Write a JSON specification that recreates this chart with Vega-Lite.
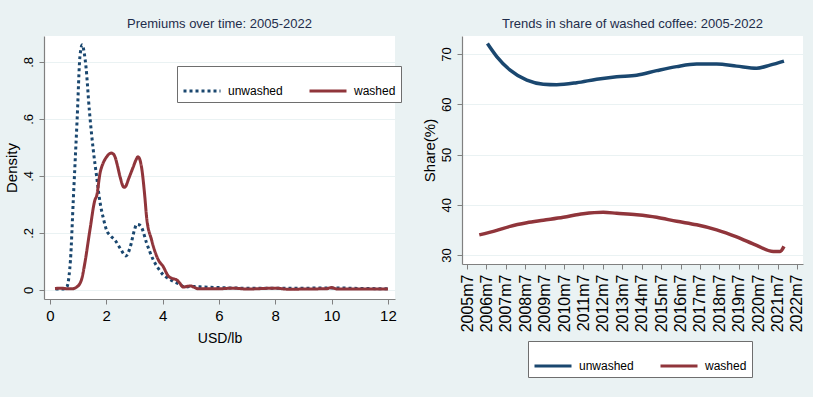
{
  "$schema": "https://vega.github.io/schema/vega-lite/v6.json",
  "background": "#eaf2f3",
  "padding": {"left": 4, "top": 18, "right": 10, "bottom": 20},
  "datasets": {
    "density": [
      {"usd": 0.2, "density": 0.003, "type": "unwashed"},
      {"usd": 0.45, "density": 0.003, "type": "unwashed"},
      {"usd": 0.6, "density": 0.01, "type": "unwashed"},
      {"usd": 0.68, "density": 0.05, "type": "unwashed"},
      {"usd": 0.73, "density": 0.105, "type": "unwashed"},
      {"usd": 0.83, "density": 0.316, "type": "unwashed"},
      {"usd": 0.97, "density": 0.607, "type": "unwashed"},
      {"usd": 1.065, "density": 0.818, "type": "unwashed"},
      {"usd": 1.15, "density": 0.86, "type": "unwashed"},
      {"usd": 1.22, "density": 0.83, "type": "unwashed"},
      {"usd": 1.28, "density": 0.783, "type": "unwashed"},
      {"usd": 1.4, "density": 0.63, "type": "unwashed"},
      {"usd": 1.54, "density": 0.49, "type": "unwashed"},
      {"usd": 1.66, "density": 0.397, "type": "unwashed"},
      {"usd": 1.775, "density": 0.31, "type": "unwashed"},
      {"usd": 1.9, "density": 0.25, "type": "unwashed"},
      {"usd": 2.01, "density": 0.21, "type": "unwashed"},
      {"usd": 2.15, "density": 0.19, "type": "unwashed"},
      {"usd": 2.31, "density": 0.175, "type": "unwashed"},
      {"usd": 2.5, "density": 0.145, "type": "unwashed"},
      {"usd": 2.7, "density": 0.119, "type": "unwashed"},
      {"usd": 2.85, "density": 0.15, "type": "unwashed"},
      {"usd": 3.0, "density": 0.21, "type": "unwashed"},
      {"usd": 3.08, "density": 0.23, "type": "unwashed"},
      {"usd": 3.18, "density": 0.228, "type": "unwashed"},
      {"usd": 3.25, "density": 0.22, "type": "unwashed"},
      {"usd": 3.43, "density": 0.165, "type": "unwashed"},
      {"usd": 3.67, "density": 0.105, "type": "unwashed"},
      {"usd": 3.85, "density": 0.075, "type": "unwashed"},
      {"usd": 4.02, "density": 0.053, "type": "unwashed"},
      {"usd": 4.2, "density": 0.04, "type": "unwashed"},
      {"usd": 4.38, "density": 0.03, "type": "unwashed"},
      {"usd": 4.6, "density": 0.02, "type": "unwashed"},
      {"usd": 4.79, "density": 0.01, "type": "unwashed"},
      {"usd": 5.0, "density": 0.012, "type": "unwashed"},
      {"usd": 5.5, "density": 0.01, "type": "unwashed"},
      {"usd": 6.0, "density": 0.008, "type": "unwashed"},
      {"usd": 7.0, "density": 0.006, "type": "unwashed"},
      {"usd": 8.0, "density": 0.006, "type": "unwashed"},
      {"usd": 9.0, "density": 0.006, "type": "unwashed"},
      {"usd": 10.0, "density": 0.007, "type": "unwashed"},
      {"usd": 11.0, "density": 0.005, "type": "unwashed"},
      {"usd": 12.0, "density": 0.004, "type": "unwashed"},
      {"usd": 0.18, "density": 0.005, "type": "washed"},
      {"usd": 0.4, "density": 0.006, "type": "washed"},
      {"usd": 0.6, "density": 0.004, "type": "washed"},
      {"usd": 0.8, "density": 0.004, "type": "washed"},
      {"usd": 0.95, "density": 0.01, "type": "washed"},
      {"usd": 1.05, "density": 0.02, "type": "washed"},
      {"usd": 1.12, "density": 0.035, "type": "washed"},
      {"usd": 1.24, "density": 0.094, "type": "washed"},
      {"usd": 1.42, "density": 0.21, "type": "washed"},
      {"usd": 1.6, "density": 0.316, "type": "washed"},
      {"usd": 1.66, "density": 0.33, "type": "washed"},
      {"usd": 1.78, "density": 0.41, "type": "washed"},
      {"usd": 1.89, "density": 0.445, "type": "washed"},
      {"usd": 2.0, "density": 0.465, "type": "washed"},
      {"usd": 2.17, "density": 0.48, "type": "washed"},
      {"usd": 2.25, "density": 0.477, "type": "washed"},
      {"usd": 2.31, "density": 0.467, "type": "washed"},
      {"usd": 2.4, "density": 0.435, "type": "washed"},
      {"usd": 2.49, "density": 0.397, "type": "washed"},
      {"usd": 2.63, "density": 0.36, "type": "washed"},
      {"usd": 2.7, "density": 0.365, "type": "washed"},
      {"usd": 2.78, "density": 0.386, "type": "washed"},
      {"usd": 2.96, "density": 0.432, "type": "washed"},
      {"usd": 3.05, "density": 0.455, "type": "washed"},
      {"usd": 3.13, "density": 0.467, "type": "washed"},
      {"usd": 3.2, "density": 0.455, "type": "washed"},
      {"usd": 3.25, "density": 0.432, "type": "washed"},
      {"usd": 3.37, "density": 0.326, "type": "washed"},
      {"usd": 3.43, "density": 0.257, "type": "washed"},
      {"usd": 3.61, "density": 0.175, "type": "washed"},
      {"usd": 3.85, "density": 0.105, "type": "washed"},
      {"usd": 4.02, "density": 0.082, "type": "washed"},
      {"usd": 4.2, "density": 0.049, "type": "washed"},
      {"usd": 4.35, "density": 0.04, "type": "washed"},
      {"usd": 4.5, "density": 0.035, "type": "washed"},
      {"usd": 4.6, "density": 0.025, "type": "washed"},
      {"usd": 4.73, "density": 0.01, "type": "washed"},
      {"usd": 4.85, "density": 0.012, "type": "washed"},
      {"usd": 5.0, "density": 0.014, "type": "washed"},
      {"usd": 5.1, "density": 0.01, "type": "washed"},
      {"usd": 5.26, "density": 0.004, "type": "washed"},
      {"usd": 6.0, "density": 0.004, "type": "washed"},
      {"usd": 6.5, "density": 0.006, "type": "washed"},
      {"usd": 7.0, "density": 0.003, "type": "washed"},
      {"usd": 8.0, "density": 0.006, "type": "washed"},
      {"usd": 8.5, "density": 0.002, "type": "washed"},
      {"usd": 9.0, "density": 0.003, "type": "washed"},
      {"usd": 9.8, "density": 0.004, "type": "washed"},
      {"usd": 10.0, "density": 0.008, "type": "washed"},
      {"usd": 10.2, "density": 0.003, "type": "washed"},
      {"usd": 11.0, "density": 0.003, "type": "washed"},
      {"usd": 12.0, "density": 0.003, "type": "washed"}
    ],
    "share": [
      {"year": 2006.55, "share": 72.1, "type": "unwashed"},
      {"year": 2007.03, "share": 69.5, "type": "unwashed"},
      {"year": 2007.72, "share": 66.8, "type": "unwashed"},
      {"year": 2008.58, "share": 64.8, "type": "unwashed"},
      {"year": 2009.43, "share": 64.0, "type": "unwashed"},
      {"year": 2010.12, "share": 63.9, "type": "unwashed"},
      {"year": 2011.15, "share": 64.3, "type": "unwashed"},
      {"year": 2012.18, "share": 65.0, "type": "unwashed"},
      {"year": 2013.21, "share": 65.5, "type": "unwashed"},
      {"year": 2014.24, "share": 65.8, "type": "unwashed"},
      {"year": 2015.27, "share": 66.7, "type": "unwashed"},
      {"year": 2016.3, "share": 67.5, "type": "unwashed"},
      {"year": 2017.33, "share": 68.0, "type": "unwashed"},
      {"year": 2018.36, "share": 68.0, "type": "unwashed"},
      {"year": 2019.39, "share": 67.6, "type": "unwashed"},
      {"year": 2020.42, "share": 67.2, "type": "unwashed"},
      {"year": 2021.11, "share": 67.8, "type": "unwashed"},
      {"year": 2021.83, "share": 68.6, "type": "unwashed"},
      {"year": 2006.13, "share": 34.0, "type": "washed"},
      {"year": 2007.03, "share": 34.9, "type": "washed"},
      {"year": 2007.72, "share": 35.7, "type": "washed"},
      {"year": 2008.58, "share": 36.4, "type": "washed"},
      {"year": 2009.43, "share": 36.9, "type": "washed"},
      {"year": 2010.46, "share": 37.5, "type": "washed"},
      {"year": 2011.49, "share": 38.2, "type": "washed"},
      {"year": 2012.52, "share": 38.5, "type": "washed"},
      {"year": 2013.21, "share": 38.3, "type": "washed"},
      {"year": 2014.24, "share": 38.0, "type": "washed"},
      {"year": 2015.27, "share": 37.5, "type": "washed"},
      {"year": 2016.3, "share": 36.7, "type": "washed"},
      {"year": 2017.33, "share": 36.0, "type": "washed"},
      {"year": 2018.36, "share": 35.0, "type": "washed"},
      {"year": 2019.39, "share": 33.6, "type": "washed"},
      {"year": 2020.42, "share": 31.9, "type": "washed"},
      {"year": 2021.28, "share": 30.7, "type": "washed"},
      {"year": 2021.63, "share": 30.7, "type": "washed"},
      {"year": 2021.83, "share": 31.7, "type": "washed"}
    ]
  },
  "bounds": "flush",
  "spacing": 67,
  "hconcat": [
    {
      "width": 351,
      "height": 263,
      "title": {"text": "Premiums over time: 2005-2022"},
      "data": {"name": "density"},
      "mark": {"type": "line", "strokeWidth": 3, "interpolate": "monotone", "clip": true},
      "encoding": {
        "x": {
          "field": "usd", "type": "quantitative",
          "scale": {"domain": [-0.21, 12.25], "nice": false, "zero": false},
          "axis": {"values": [0, 2, 4, 6, 8, 10, 12], "title": "USD/lb", "grid": false, "titlePadding": 8}
        },
        "y": {
          "field": "density", "type": "quantitative",
          "scale": {"domain": [-0.032, 0.891], "nice": false, "zero": false},
          "axis": {
            "values": [0, 0.2, 0.4, 0.6, 0.8],
            "labelExpr": "datum.value == 0 ? '0' : replace(format(datum.value, '.1f'), '0.', '.')",
            "title": "Density"
          }
        },
        "color": {
          "field": "type", "type": "nominal",
          "scale": {"domain": ["unwashed", "washed"], "range": ["#1a476f", "#90353b"]},
          "legend": {"orient": "none", "legendX": 133, "legendY": 30, "direction": "horizontal", "title": null}
        },
        "strokeDash": {
          "field": "type", "type": "nominal",
          "scale": {"domain": ["unwashed", "washed"], "range": [[3, 3], [1, 0]]},
          "legend": {"orient": "none", "legendX": 133, "legendY": 30, "direction": "horizontal", "title": null}
        }
      }
    },
    {
      "width": 341,
      "height": 228,
      "title": {"text": "Trends in share of washed coffee: 2005-2022"},
      "data": {"name": "share"},
      "mark": {"type": "line", "strokeWidth": 3.5, "interpolate": "monotone", "clip": true},
      "encoding": {
        "x": {
          "field": "year", "type": "quantitative",
          "scale": {"domain": [2005.24, 2022.81], "nice": false, "zero": false},
          "axis": {
            "values": [2005.5, 2006.5, 2007.5, 2008.5, 2009.5, 2010.5, 2011.5, 2012.5, 2013.5, 2014.5, 2015.5, 2016.5, 2017.5, 2018.5, 2019.5, 2020.5, 2021.5, 2022.5],
            "labelExpr": "floor(datum.value) + 'm7'",
            "labelAngle": -90, "labelAlign": "right", "labelBaseline": "middle",
            "labelFont": "Liberation Sans", "labelFontSize": 16, "labelPadding": 5,
            "labelOverlap": false, "labelBound": false, "labelFlush": false,
            "title": null, "grid": false
          }
        },
        "y": {
          "field": "share", "type": "quantitative",
          "scale": {"domain": [28.2, 73.6], "nice": false, "zero": false},
          "axis": {"values": [30, 40, 50, 60, 70], "title": "Share(%)"}
        },
        "color": {
          "field": "type", "type": "nominal",
          "scale": {"domain": ["unwashed", "washed"], "range": ["#1a476f", "#90353b"]},
          "legend": {"orient": "none", "legendX": 66, "legendY": 305, "direction": "horizontal", "title": null}
        }
      }
    }
  ],
  "resolve": {
    "scale": {"color": "independent", "strokeDash": "independent"},
    "legend": {"color": "independent", "strokeDash": "independent"}
  },
  "config": {
    "view": {"fill": "white", "stroke": null},
    "title": {"font": "Liberation Sans", "fontSize": 13, "fontWeight": "normal", "color": "#1e2d4b", "offset": 5},
    "axis": {
      "domainColor": "#808080", "tickColor": "#808080", "tickSize": 5, "domainWidth": 1.2,
      "labelColor": "#000000", "titleColor": "#000000", "titleFontWeight": "normal",
      "gridColor": "#eaf2f3", "gridWidth": 1.2,
      "labelFont": "Liberation Sans", "titleFont": "Liberation Sans", "titleFontSize": 15
    },
    "axisX": {"labelFontSize": 15, "titleFontSize": 14, "labelPadding": 4, "labelFlush": false},
    "axisY": {"labelAngle": -90, "labelAlign": "center", "labelBaseline": "bottom", "labelFontSize": 13, "labelPadding": 4, "titlePadding": 3, "grid": true},
    "legend": {
      "labelFont": "Liberation Sans", "labelFontSize": 12, "labelColor": "#000000",
      "symbolType": "stroke", "symbolSize": 1369, "symbolStrokeWidth": 3,
      "strokeColor": "#6e6e6e", "fillColor": "white", "padding": 5, "columnPadding": 20, "labelOffset": 6
    }
  }
}
